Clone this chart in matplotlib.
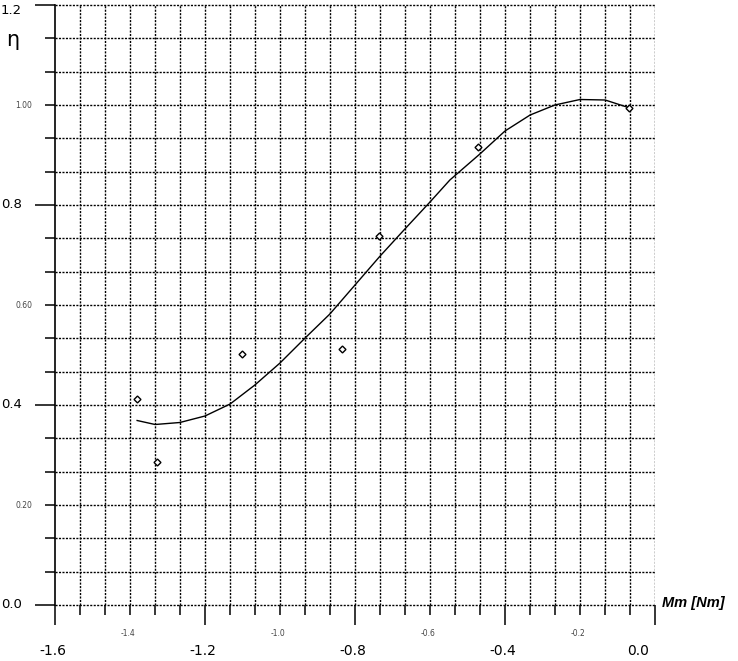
import numpy as np
import matplotlib
matplotlib.use('Agg')
import matplotlib.pyplot as plt

# measured points (Mm [Nm], efficiency)
mm_pts = [-1.381, -1.328, -1.101, -0.835, -0.736, -0.472, -0.069]
eta_pts = [0.412, 0.286, 0.502, 0.512, 0.738, 0.916, 0.994]

# fitted curve
mm_curve = [-1.381, -1.333, -1.267, -1.200, -1.133, -1.067, -1.000, -0.933,
            -0.867, -0.800, -0.733, -0.667, -0.600, -0.547, -0.467, -0.400,
            -0.333, -0.267, -0.200, -0.133, -0.067]
eta_curve = [0.369, 0.361, 0.365, 0.378, 0.402, 0.440, 0.484, 0.534,
             0.582, 0.640, 0.698, 0.752, 0.806, 0.850, 0.902, 0.948,
             0.980, 1.000, 1.011, 1.010, 0.994]

x_big = [-1.6, -1.2, -0.8, -0.4, 0.0]
x_big_lbl = ['-1.6', '-1.2', '-0.8', '-0.4', '0.0']
x_small = [-1.4, -1.0, -0.6, -0.2]
x_small_lbl = ['-1.4', '-1.0', '-0.6', '-0.2']
y_big = [0.0, 0.4, 0.8, 1.2]
y_big_lbl = ['0.0', '0.4', '0.8', '1.2']
y_small = [0.2, 0.6, 1.0]
y_small_lbl = ['0.20', '0.60', '1.00']

fig = plt.figure(figsize=(7.38, 6.61), dpi=100)
ax = fig.add_axes([55 / 738, 56 / 661, 600 / 738, 600 / 661])
ax.set_xlim(-1.6, 0.0)
ax.set_ylim(0.0, 1.2)

# dotted grid every 1/15
xg = np.linspace(-1.6, 0.0, 25)
yg = np.linspace(0.0, 1.2, 19)
for v in xg[1:]:
    ax.axvline(v, color='black', lw=1.0, ls=(0, (1.5, 1.0)), zorder=1)
for v in yg:
    ax.axhline(v, color='black', lw=1.0, ls=(0, (1.5, 1.0)), zorder=1, clip_on=False)

ax.plot(mm_curve, eta_curve, color='black', lw=1.0, zorder=3)
ax.plot(mm_pts, eta_pts, ls='none', marker='D', ms=3.5, mfc='white',
        mec='black', mew=1.0, zorder=4)

for s in ['top', 'right', 'bottom']:
    ax.spines[s].set_visible(False)
ax.spines['left'].set_linewidth(1.2)

ax.set_xticks(x_big)
ax.set_xticks(xg, minor=True)
ax.set_yticks(y_big)
ax.set_yticks(yg, minor=True)
ax.set_xticklabels([])
ax.set_yticklabels([])
ax.tick_params(which='major', length=14.4, width=1.1, direction='out')
ax.tick_params(which='minor', length=7.2, width=1.1, direction='out')

xt = ax.get_xaxis_transform()
yt = ax.get_yaxis_transform()
for v, t in zip(x_big, x_big_lbl):
    xx = min(v, -0.04)
    ax.text(xx - 0.005, -0.0767, t, transform=xt, ha='center', va='center',
            fontsize=10)
for v, t in zip(x_small, x_small_lbl):
    ax.text(v - 0.005, -0.0483, t, transform=xt, ha='center', va='center',
            fontsize=5.5, color='#444444')
for v, t in zip(y_big, y_big_lbl):
    yy = min(v, 1.188)
    ax.text(-0.055, yy, t, transform=yt, ha='right', va='center',
            fontsize=9.5)
for v, t in zip(y_small, y_small_lbl):
    ax.text(-0.038, v, t, transform=yt, ha='right', va='center',
            fontsize=5.5, color='#444444')

ax.text(-0.07, 0.942, 'η', transform=ax.transAxes, ha='center', va='center',
        fontsize=15)
ax.text(1.012, 0.003, 'Mm [Nm]', transform=ax.transAxes, ha='left', va='center',
        fontsize=10.5, fontweight='bold', fontstyle='italic',
        family=['Liberation Sans', 'DejaVu Sans'])

fig.savefig('out.png', dpi=100)
